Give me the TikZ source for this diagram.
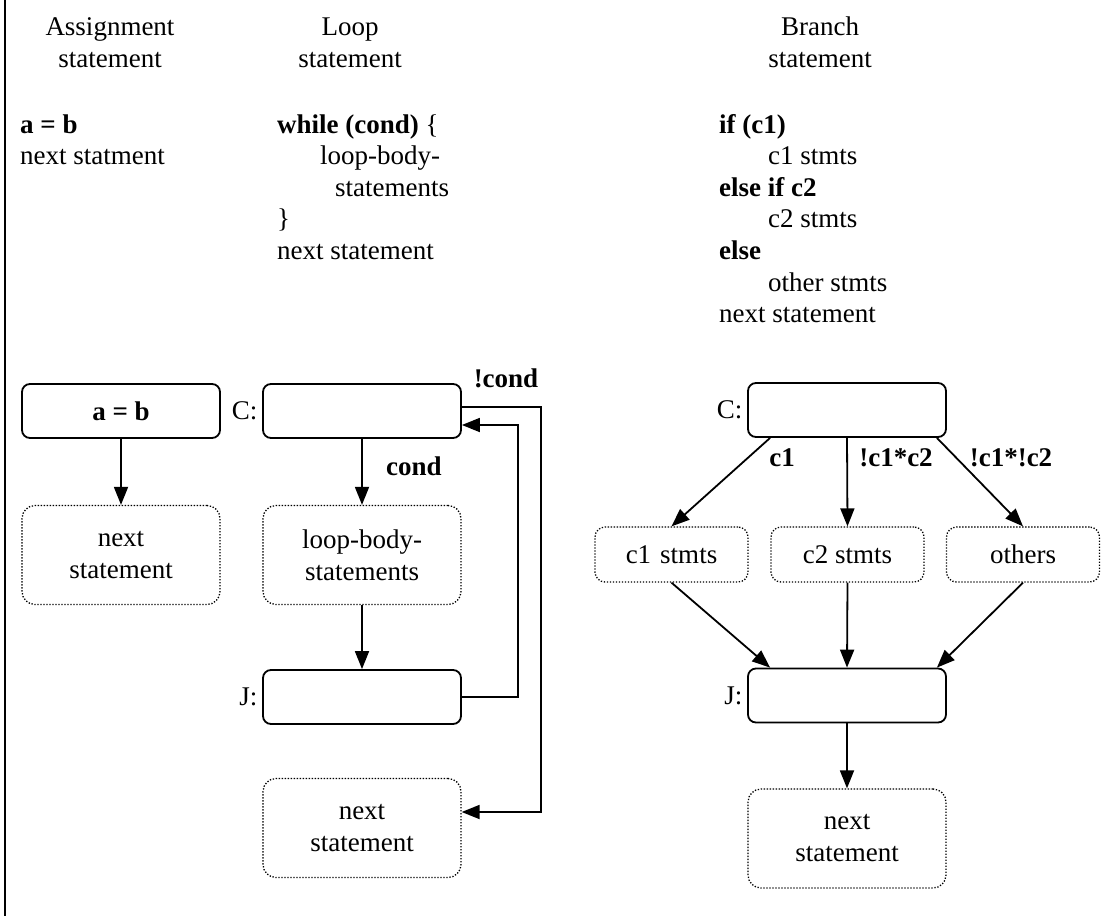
\documentclass[tikz,border=0pt]{standalone}
\usepackage{fontspec}
\setmainfont{Liberation Serif}
\usetikzlibrary{arrows.meta,calc}
\begin{document}
\begin{tikzpicture}[x=1pt,y=-1pt,
  every node/.style={font=\fontsize{27}{32}\selectfont, inner sep=0pt},
  solidbox/.style={draw, line width=1.8pt, rounded corners=8pt, minimum width=198pt, minimum height=54pt},
  dotbox/.style={draw, line width=1.3pt, dash pattern=on 1.3pt off 1.7pt, rounded corners=13pt, minimum width=198pt, minimum height=99pt, align=center},
  smallbox/.style={draw, line width=1.3pt, dash pattern=on 1.3pt off 1.7pt, rounded corners=10pt, minimum width=153pt, minimum height=55pt},
  codeline/.style={anchor=base west},
  head/.style={anchor=base},
  lbl/.style={font=\bfseries\fontsize{27}{32}\selectfont},
  arr/.style={line width=1.8pt, -{Triangle[length=18pt,width=14pt]}},
  wire/.style={line width=1.8pt}]
\useasboundingbox (0,0) rectangle (1108,916);
\fill[white] (0,0) rectangle (1108,916);
\draw[line width=2pt] (5,0) -- (5,916);

% column headings
\node[head] (h1a) at (110,35) {Assignment};
\node[head] (h1b) at (110,67) {statement};
\node[head] (h2a) at (350,35) {Loop};
\node[head] (h2b) at (350,67) {statement};
\node[head] (h3a) at (820,35) {Branch};
\node[head] (h3b) at (820,67) {statement};

% assignment source
\node[codeline] (a1) at (20,133) {\textbf{a = b}};
\node[codeline] (a2) at (20,164.6) {next statment};

% loop source
\node[codeline] (l1) at (277,133) {\textbf{while (cond)} \{};
\node[codeline] (l2) at (320,164.6) {loop-body-};
\node[codeline] (l3) at (335,196.2) {statements};
\node[codeline] (l4) at (277,227.8) {\}};
\node[codeline] (l5) at (277,259.4) {next statement};

% branch source
\node[codeline] (b1) at (719,133) {\textbf{if (c1)}};
\node[codeline] (b2) at (768,164.6) {c1 stmts};
\node[codeline] (b3) at (719,196.2) {\textbf{else if c2}};
\node[codeline] (b4) at (768,227.8) {c2 stmts};
\node[codeline] (b5) at (719,259.4) {\textbf{else}};
\node[codeline] (b6) at (768,291) {other stmts};
\node[codeline] (b7) at (719,322.6) {next statement};

% assignment graph
\node[solidbox] (asg) at (121,411) {\textbf{a = b}};
\node[dotbox] (anext) at (121,555) {next\\statement};
\draw[arr] (asg) -- (anext);

% loop graph
\node[solidbox] (lc) at (362,411) {};
\node[anchor=east] (lcl) at (lc.west) {C:\,};
\node[dotbox] (lbody) at (362,555) {loop-body-\\statements};
\node[solidbox] (lj) at (362,697) {};
\node[anchor=east] (ljl) at (lj.west) {J:\,};
\node[dotbox] (lnext) at (362,828) {next\\statement};
\draw[arr] (lc) -- (lbody);
\node[lbl] (lcond) at (414,466) {cond};
\draw[arr] (lbody) -- (lj);
\draw[arr] (lj.east) -- ($(lj.east)+(56,0)$) |- ($(lc.east)+(0,14)$);
\draw[arr] ($(lc.east)+(0,-4)$) -- ($(lc.east)+(79,-4)$) |- ($(lnext.east)+(0,-16)$);
\node[lbl] (lncond) at (506,378) {!cond};

% branch graph
\node[solidbox] (bc) at (847,410) {};
\node[anchor=east] (bcl) at (bc.west) {C:\,};
\node[smallbox] (s1) at (671.5,554.5) {c1\,\,stmts};
\node[smallbox] (s2) at (847.5,554.5) {c2 stmts};
\node[smallbox] (s3) at (1023,554.5) {others};
\node[solidbox] (bj) at (847,695.5) {};
\node[anchor=east] (bjl) at (bj.west) {J:\,};
\node[dotbox] (bnext) at (847,838.5) {next\\statement};
\draw[arr] ($(bc.south west)+(23,0)$) -- (s1.north);
\draw[arr] (bc.south) -- (s2.north);
\draw[arr] ($(bc.south east)+(-10,0)$) -- (s3.north);
\node[lbl] (t1) at (782,458) {c1};
\node[lbl] (t2) at (896,458) {!c1*c2};
\node[lbl] (t3) at (1011,458) {!c1*!c2};
\draw[arr] (s1.south) -- ($(bj.north west)+(23,0)$);
\draw[arr] (s2.south) -- (bj.north);
\draw[arr] (s3.south) -- ($(bj.north east)+(-10,0)$);
\draw[arr] (bj) -- (bnext);
\end{tikzpicture}
\end{document}
